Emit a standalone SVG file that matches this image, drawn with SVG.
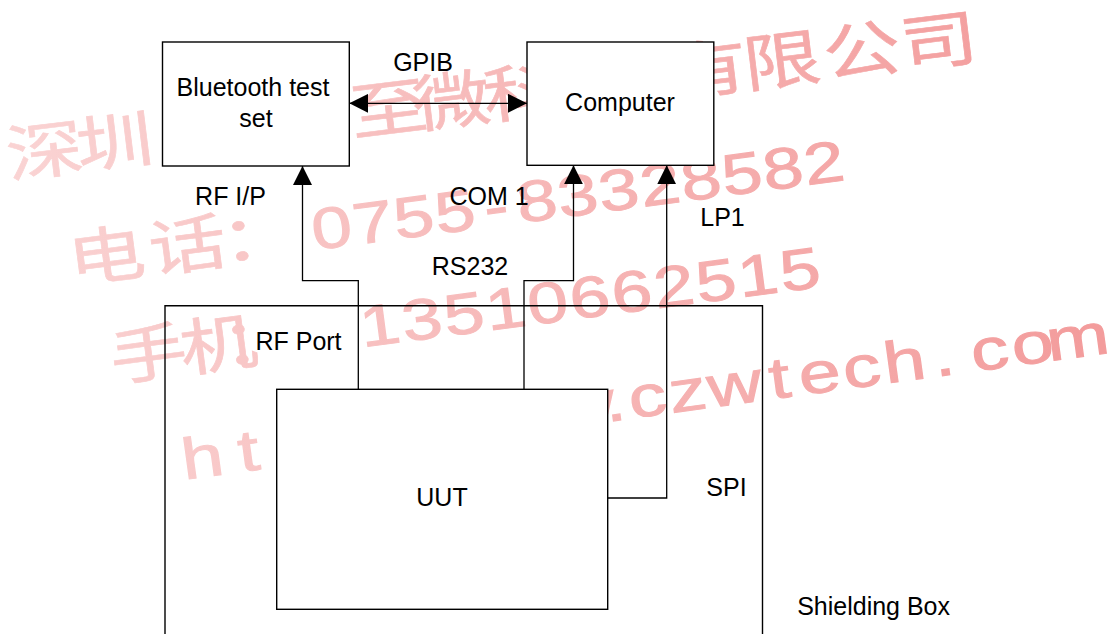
<svg xmlns="http://www.w3.org/2000/svg" width="1110" height="634" viewBox="0 0 1110 634">
  <style>
    .box { fill: #ffffff; stroke: #000000; stroke-width: 1.4; }
    .outline { fill: none; stroke: #000000; stroke-width: 1.4; }
    .wire { fill: none; stroke: #000000; stroke-width: 1.3; }
    .lbl { font-family: "Liberation Sans", Arial, sans-serif; font-size: 25px; fill: #000000; text-anchor: middle; }
    .wm-cjk { font-family: "Noto Sans CJK SC", "Noto Sans", sans-serif; font-size: 62px; text-anchor: middle; stroke-width: 0.6; }
    .wm-lat { font-family: "Liberation Sans", Arial, sans-serif; font-size: 58px; text-anchor: middle; stroke-width: 1; }
    .wm-url { font-family: "Liberation Sans", Arial, sans-serif; font-size: 58px; text-anchor: middle; stroke-width: 1; }
  </style>
  <defs>
    <marker id="arrow" viewBox="0 0 19 19" refX="19" refY="9.5" markerUnits="userSpaceOnUse" markerWidth="19" markerHeight="19" orient="auto-start-reverse">
      <path d="M0,0 L19,9.5 L0,19 Z" fill="#000000"/>
    </marker>
    <linearGradient id="wmgrad" gradientUnits="userSpaceOnUse" x1="0" y1="0" x2="850" y2="0">
      <stop offset="0" stop-color="#fad4d4"/>
      <stop offset="1" stop-color="#f39c9c"/>
    </linearGradient>
  </defs>

  <rect x="0" y="0" width="1110" height="634" fill="#ffffff"/>

  <!-- watermark -->
  <g id="watermark" fill="url(#wmgrad)" stroke="url(#wmgrad)">
    <g transform="translate(0 183) rotate(-7) scale(1.25 1)">
      <text class="wm-cjk" x="38.7 95.1" y="-4">深圳</text>
      <text class="wm-cjk" x="316 366.7 423.2" y="-4">至微科</text>
      <text class="wm-cjk" x="573.9" y="-4">有</text>
      <text class="wm-cjk" x="632.7 697.2 759.3" y="-4">限公司</text>
    </g>
    <g transform="translate(0 296.5) rotate(-7.5) scale(1.25 1)">
      <text class="wm-cjk" x="88.8 154.1 212" y="-4">电话：</text>
      <text class="wm-lat" x="270.3 303.4 336.5 369.6 402.7 435.8 468.8 501.9 535 568.1 601.2 634.3 667.4" y="-5">0755-83328582</text>
    </g>
    <g transform="translate(0 400) rotate(-7.5) scale(1.25 1)">
      <text class="wm-cjk" x="122.7 179.1 212" y="-4">手机：</text>
      <text class="wm-lat" x="309.1 343 376.9 410.7 444.6 478.5 512.4 546.3 580.2 614.1 648" y="-5">13510662515</text>
    </g>
    <g transform="translate(0 505) rotate(-7.8) scale(1.3 1)">
      <text class="wm-url" x="159.2 194.9 225.2 258.6 292 325.4 358.7 391.4 424.7 458.1 479.1 504.7 535.8 572.3 607.2 638.3 670.9 704.3 734.6 770.3 803.7 838.6" y="0">http://www.czwtech.com</text>
    </g>
  </g>

  <g id="node-shielding-box">
    <path class="outline" d="M165,640 V305.7 H762.5 V640"/>
    <text class="lbl" x="873.6" y="615">Shielding Box</text>
  </g>

  <g id="node-bluetooth-test-set">
    <rect class="box" x="162.5" y="42" width="186.8" height="124"/>
    <text class="lbl" x="253" y="96">Bluetooth test</text>
    <text class="lbl" x="256" y="126.7">set</text>
  </g>

  <g id="node-computer">
    <rect class="box" x="527" y="42" width="186.8" height="123.3"/>
    <text class="lbl" x="620" y="111">Computer</text>
  </g>

  <g id="node-uut">
    <rect class="box" x="276.7" y="389.3" width="331" height="220"/>
    <text class="lbl" x="442" y="506">UUT</text>
  </g>

  <g id="connectors">
    <line class="wire" x1="349.3" y1="103.3" x2="527" y2="103.3" marker-start="url(#arrow)" marker-end="url(#arrow)"/>
    <path class="wire" d="M358.3,389.3 V280.7 H302.5 V166" marker-end="url(#arrow)"/>
    <path class="wire" d="M524,389.3 V280.7 H573.5 V165.3" marker-end="url(#arrow)"/>
    <path class="wire" d="M607.7,498 H666.7 V165.3" marker-end="url(#arrow)"/>
  </g>

  <g id="connector-labels">
    <text class="lbl" x="423" y="70.7">GPIB</text>
    <text class="lbl" x="230.5" y="205">RF I/P</text>
    <text class="lbl" x="489" y="205">COM 1</text>
    <text class="lbl" x="722.5" y="226">LP1</text>
    <text class="lbl" x="470" y="275">RS232</text>
    <text class="lbl" x="298.5" y="350">RF Port</text>
    <text class="lbl" x="726.5" y="495.7">SPI</text>
  </g>
</svg>
